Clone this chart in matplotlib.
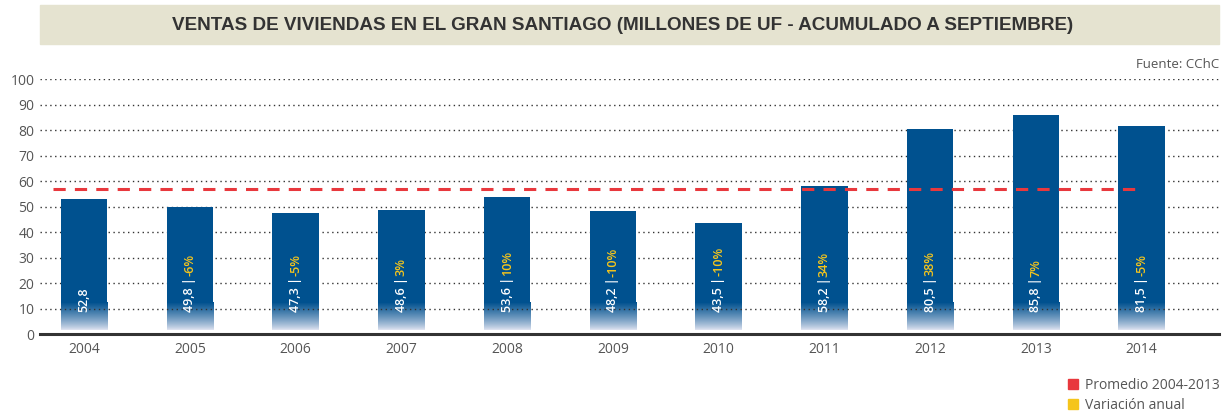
import numpy as np
import matplotlib
matplotlib.use("Agg")
import matplotlib.pyplot as plt
from matplotlib.patches import Rectangle, Patch

years = ["2004", "2005", "2006", "2007", "2008", "2009", "2010", "2011", "2012", "2013", "2014"]
ventas = [52.8, 49.8, 47.3, 48.6, 53.6, 48.2, 43.5, 58.2, 80.5, 85.8, 81.5]
variacion = ["", "-6%", "-5%", "3%", "10%", "-10%", "-10%", "34%", "38%", "7%", "-5%"]
promedio = np.mean(ventas[:10])

azul = "#00518f"
rojo = "#e8383d"
amarillo = "#f5c51c"

plt.rcParams["font.family"] = ["Open Sans", "DejaVu Sans"]

fig = plt.figure(figsize=(12.25, 4.16), dpi=100)
ax = fig.add_axes([0.0327, 0.197, 0.9623, 0.613])

x = np.arange(len(years))
w = 0.44
fade_top = 12.2

# solid part of each bar
ax.bar(x, [v - fade_top for v in ventas], bottom=fade_top, width=w, color=azul, zorder=3)

# faded foot of each bar (light lavender at the bottom to bar blue at the top)
t = np.linspace(0, 1, 64)[:, None] ** 0.8
c0 = np.array(matplotlib.colors.to_rgb("#e2e5f2"))
c1 = np.array(matplotlib.colors.to_rgb(azul))
rgb = c0 + (c1 - c0) * t[..., None]
for xi in x:
    ax.imshow(rgb, extent=(xi - w / 2, xi + w / 2, 1.6, fade_top), origin="lower",
              aspect="auto", zorder=2, interpolation="bilinear")

ax.plot([-0.29, 10.0], [promedio, promedio], color=rojo, lw=2.2, ls=(0, (4, 3)), zorder=4)

for xi, v, p in zip(x, ventas, variacion):
    s = f"{v:.1f}".replace(".", ",")
    if p:
        s += " |"
    txt = ax.text(xi, 8.7, s, rotation=90, ha="center", va="bottom", color="white",
                  fontsize=9, fontweight="semibold", zorder=5)
    if p:
        ax.annotate(p, xy=(0.5, 1.0), xycoords=txt, xytext=(0, 0.5), textcoords="offset points",
                    rotation=90, ha="center", va="bottom", color=amarillo,
                    fontsize=9, fontweight="semibold", zorder=5)

ax.set_xlim(-0.416, 10.73)
ax.set_ylim(0, 100)
ax.set_yticks(np.arange(0, 101, 10))
ax.set_xticks(x)
ax.set_xticklabels(years)
ax.tick_params(length=0, labelsize=10, colors="#555555", pad=6)
ax.tick_params(axis="y", pad=4)
ax.yaxis.grid(True, ls=(0, (1, 2.5)), color="#333333", lw=1)
ax.set_axisbelow(False)
for sp in ["left", "right", "top"]:
    ax.spines[sp].set_visible(False)
ax.spines["bottom"].set_color("#333333")
ax.spines["bottom"].set_linewidth(2.2)
ax.spines["bottom"].set_zorder(6)

# title banner
fig.patches.append(Rectangle((40 / 1225, 1 - 44 / 416), 1179 / 1225, 39 / 416,
                             transform=fig.transFigure, color="#e5e3d0", zorder=0))
fig.text(623 / 1225, 1 - 25 / 416,
         "VENTAS DE VIVIENDAS EN EL GRAN SANTIAGO (MILLONES DE UF - ACUMULADO A SEPTIEMBRE)",
         ha="center", va="center", fontsize=13.6, fontweight="bold", color="#333333",
         family=["Liberation Sans", "DejaVu Sans"])

fig.text(1219 / 1225, 1 - 64 / 416, "Fuente: CChC", ha="right", va="center",
         fontsize=9.5, color="#555555")

handles = [Patch(color=rojo), Patch(color=amarillo)]
fig.legend(handles, ["Promedio 2004-2013", "Variación anual"], loc="lower right",
           bbox_to_anchor=(1232 / 1225, -0.023), frameon=False, fontsize=10,
           handlelength=0.7, handleheight=0.7, handletextpad=0.5, labelspacing=0.4,
           labelcolor="#555555")

fig.savefig("out.png", dpi=100)
